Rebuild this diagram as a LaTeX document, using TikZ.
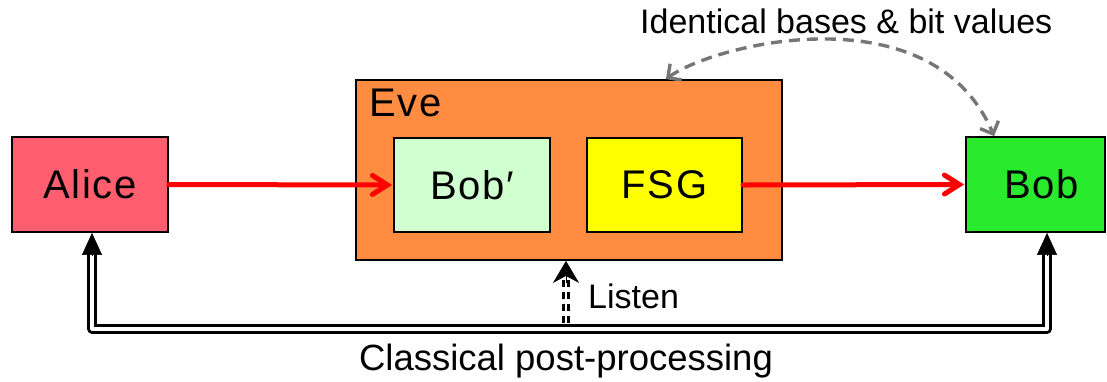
\documentclass[tikz,border=0pt]{standalone}
\usepackage{fontspec}
\setmainfont{Liberation Sans}
\usetikzlibrary{arrows.meta,calc}

\definecolor{alicered}{RGB}{255,94,110}
\definecolor{eveorange}{RGB}{255,140,64}
\definecolor{bobpgreen}{RGB}{208,255,208}
\definecolor{fsgyellow}{RGB}{255,255,0}
\definecolor{bobgreen}{RGB}{42,234,46}
\definecolor{arcgray}{RGB}{118,118,118}

\begin{document}
\begin{tikzpicture}[x=1pt,y=-1pt,
  party/.style={draw=black,line width=1.8pt,inner sep=0pt,
    font=\fontsize{40}{48}\selectfont\addfontfeature{LetterSpace=4}},
  caption/.style={inner sep=0pt,font=\fontsize{34}{40}\selectfont},
  quantum/.style={draw=red,line width=5pt,line cap=round,
    -{Straight Barb[length=15pt,width=19pt,line width=5pt,line cap=round]}},
  classic/.style={draw=black,line width=3.2pt,double=white,double distance=3.2pt,
    line join=round},
  classictip/.style={draw=black,line width=0.6pt,-{Triangle[length=22pt,width=20pt]}},
  listen/.style={draw=black,line width=3.4pt,double=white,double distance=1.2pt,
    dash pattern=on 7pt off 5pt},
  listentip/.style={draw=black,line width=0.6pt,-{Stealth[length=22pt,width=26pt,inset=7pt]}},
  agree/.style={draw=arcgray,line width=3.4pt,dash pattern=on 11pt off 7pt,
    {Straight Barb[length=10pt,width=20pt,line width=3.4pt]}-{Straight Barb[length=10pt,width=20pt,line width=3.4pt]}}
]
\useasboundingbox (0,0) rectangle (1107,381);

% parties and Eve's two devices
\node[party,fill=alicered,minimum width=156pt,minimum height=95pt] (alice) at (90,184.5) {Alice};
\node[party,fill=eveorange,minimum width=426pt,minimum height=180pt] (eve) at (569,170) {};
\node[inner sep=0pt,anchor=base west,font=\fontsize{40}{48}\selectfont\addfontfeature{LetterSpace=4}] (evelabel)
  at ([xshift=14pt,yshift=-37pt]eve.north west) {Eve};
\node[party,fill=bobpgreen,minimum width=156pt,minimum height=94pt] (bobp) at (472,185) {Bob′};
\node[party,fill=fsgyellow,minimum width=155pt,minimum height=94pt] (fsg) at (664.5,185) {FSG};
\node[party,fill=bobgreen,minimum width=139pt,minimum height=95pt,text width=139pt,align=center] (bob) at (1035.5,184.5) {\hspace*{12pt}Bob};

% quantum channel
\draw[quantum] (alice.east) -- ([xshift=-1pt]bobp.west);
\draw[quantum] (fsg.east) -- ([xshift=-1pt]bob.west);

% classical channel along the bottom
\coordinate (bus) at (567,329);
\draw[classic] ([xshift=2pt,yshift=-20pt]alice.south) -- ([xshift=2pt]alice.south |- bus)
  -- ([xshift=11.5pt]bob.south |- bus) -- ([xshift=11.5pt,yshift=-20pt]bob.south);
\draw[classictip] ([xshift=2pt,yshift=-22pt]alice.south) -- ([xshift=2pt]alice.south);
\draw[classictip] ([xshift=11.5pt,yshift=-22pt]bob.south) -- ([xshift=11.5pt]bob.south);

% Eve listening on the classical channel
\coordinate (tap) at (566,323);
\draw[listen] (tap) -- ([yshift=-18pt]tap |- eve.south);
\draw[listentip] ([yshift=-22pt]tap |- eve.south) -- (tap |- eve.south);

% shared bases and bit values
\draw[agree] ([xshift=-117pt]eve.north east) .. controls +(50,-36) and +(-62,-145) .. ([xshift=29pt]bob.north west);

% labels
\node[caption,anchor=base west] (idlabel) at (640,33) {Identical bases \& bit values};
\node[caption,anchor=base west] (listenlabel) at (588,308) {Listen};
\node[caption,anchor=base,font=\fontsize{36.5}{42}\selectfont] (postlabel) at (566,370) {Classical post-processing};
\end{tikzpicture}
\end{document}
